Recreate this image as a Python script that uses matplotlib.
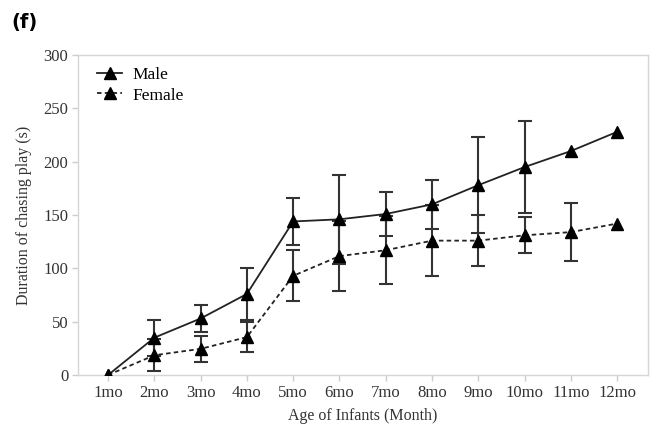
import matplotlib.pyplot as plt
import numpy as np

# Age groups and mean chasing-play durations (s) with error bars
months = ["1mo", "2mo", "3mo", "4mo", "5mo", "6mo",
          "7mo", "8mo", "9mo", "10mo", "11mo", "12mo"]
male = [0, 35, 53, 76, 144, 146, 151, 160, 178, 195, 210, 228]
male_err = [0, 17, 13, 24, 22, 42, 21, 23, 45, 43, 0, 0]
female = [0, 18.5, 24.5, 35.5, 93, 111.5, 117, 126, 126, 131, 134, 142]
female_err = [0, 15, 12, 14, 24, 33, 32, 33, 24, 17, 27, 0]

plt.rcParams['font.family'] = ['Liberation Serif', 'DejaVu Serif']

fig = plt.figure(figsize=(6.5, 4.24), dpi=100)
ax = fig.add_axes([0.12, 0.1156, 0.877, 0.7544])

x = np.arange(1, len(months) + 1)
mask_m = np.array(male_err) > 0
mask_f = np.array(female_err) > 0

ax.errorbar(x[mask_f], np.array(female)[mask_f], yerr=np.array(female_err)[mask_f],
            fmt='none', ecolor='#333333', elinewidth=1.5, capsize=5, capthick=1.5, zorder=2)
ax.errorbar(x[mask_m], np.array(male)[mask_m], yerr=np.array(male_err)[mask_m],
            fmt='none', ecolor='#333333', elinewidth=1.5, capsize=5, capthick=1.5, zorder=2)

ax.plot(x, male, '-', color='#222222', lw=1.3, marker='^', ms=8.5,
        mfc='black', mec='black', label='Male', zorder=3)
ax.plot(x, female, '--', color='#222222', lw=1.3, dashes=(2.5, 1.8), marker='^', ms=8.5,
        mfc='black', mec='black', label='Female', zorder=3)

ax.set_xlim(0.35, 12.67)
ax.set_ylim(0, 300)
ax.set_xticks(x)
ax.set_xticklabels(months)
ax.set_yticks(range(0, 301, 50))
ax.tick_params(axis='both', colors='#cccccc', labelcolor='#333333',
               labelsize=12, length=4, width=1)
ax.tick_params(axis='y', pad=3)
for s in ax.spines.values():
    s.set_color('#d6d6d6')
    s.set_linewidth(1)

ax.set_xlabel('Age of Infants (Month)', fontsize=11.5, color='#333333', labelpad=5)
ax.set_ylabel('Duration of chasing play (s)', fontsize=11.5, color='#333333', labelpad=8)

leg = ax.legend(loc='upper left', frameon=False, fontsize=12.5, handlelength=1.4,
                handletextpad=0.6, labelspacing=0.25, borderaxespad=0.0,
                bbox_to_anchor=(0.022, 0.985))

fig.text(0.018, 0.935, '(f)', fontsize=14, fontweight='bold',
         family=['DejaVu Sans'], color='black')

fig.savefig('out.png', dpi=100)
